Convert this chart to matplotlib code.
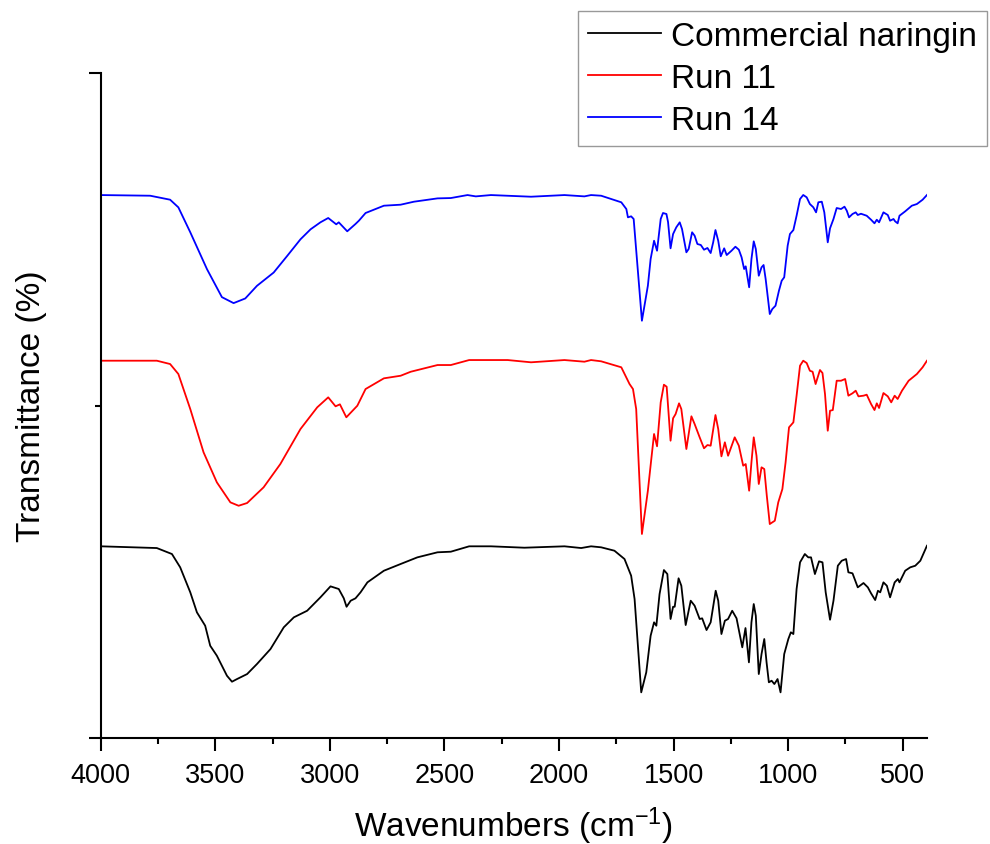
import numpy as np
import matplotlib.pyplot as plt
from matplotlib.ticker import MultipleLocator

plt.rcParams['font.family'] = ['Liberation Sans', 'DejaVu Sans']
plt.rcParams['mathtext.default'] = 'regular'

# FTIR spectra, stacked with an offset so the three traces don't overlap
# wavenumber (cm-1) and transmittance (%)

naringin_wn = [4000, 3755, 3689, 3653, 3609, 3580, 3544, 3522, 3493, 3449, 3427, 3405, 3361, 3318,
               3259, 3201, 3157, 3099, 3041, 2997, 2961, 2939, 2927, 2909, 2888, 2866, 2836, 2764,
               2691, 2618, 2530, 2472, 2392, 2297, 2151, 1976, 1903, 1860,
               1816, 1758, 1714, 1685, 1670, 1641, 1619, 1600, 1585, 1575, 1561, 1542, 1527, 1513,
               1502, 1495, 1478, 1466, 1447, 1425, 1408, 1386, 1375, 1356, 1338, 1316, 1305, 1291,
               1276, 1262, 1244, 1225, 1200, 1186, 1171, 1160, 1150, 1141, 1128, 1116, 1104, 1094,
               1084, 1072, 1060, 1046, 1033, 1017, 999, 988, 977, 963, 948, 927, 912, 900, 883,
               865, 850, 836, 817, 802, 783, 766, 747, 737, 719, 696, 671, 652, 638, 620, 608, 598,
               584, 569, 555, 535, 521, 514, 489, 467, 445, 423, 394]
naringin_t = [28.83, 28.57, 27.67, 25.67, 21.91, 18.9, 16.89, 13.88, 12.38, 9.37, 8.47, 8.87, 9.62, 11.13,
              13.38, 16.65, 18.15, 19.14, 21.16, 22.81, 22.41, 21.01, 19.74, 20.65, 21.01, 21.91, 23.41, 25.16,
              26.17, 27.17, 27.93, 28.02, 28.83, 28.83, 28.62, 28.83, 28.57, 28.83,
              28.68, 28.17, 26.92, 24.41, 20.9, 6.87, 9.88, 15.38, 17.4, 16.89, 21.65, 25.26, 24.66, 17.9,
              19.74, 19.74, 24.02, 22.9, 16.99, 20.65, 19.9, 17.9, 18.0, 16.24, 17.4, 22.15, 20.65, 15.64,
              17.64, 17.9, 19.14, 18.0, 13.64, 16.54, 11.38, 17.4, 20.15, 18.39, 9.62, 12.63, 14.89, 11.38,
              8.38, 8.62, 8.12, 8.87, 6.87, 12.63, 14.89, 15.9, 15.64, 22.41, 26.42, 27.67, 27.17, 27.17, 24.66,
              26.57, 26.42, 21.91, 17.79, 20.65, 25.91, 26.66, 26.92, 24.92, 24.77, 22.66, 23.31, 22.66, 21.76, 20.75, 22.15, 21.91,
              23.41, 22.9, 21.16, 23.41, 23.91, 23.41, 25.16, 25.67, 25.91, 26.66, 28.92]

run11_wn = [4000, 3755, 3697, 3661, 3609, 3551, 3493, 3434, 3398, 3361, 3289, 3216, 3128, 3055, 3007,
            2975, 2956, 2928, 2880, 2844, 2764, 2691, 2647, 2530, 2472, 2392, 2224, 2122, 1976, 1889, 1860,
            1816, 1728, 1692, 1677, 1663, 1638, 1612, 1597, 1585, 1572, 1556, 1542, 1530, 1513, 1502,
            1491, 1476, 1466, 1444, 1422, 1408, 1386, 1367, 1352, 1338, 1317, 1305, 1291, 1276, 1262,
            1233, 1215, 1196, 1185, 1170, 1160, 1150, 1138, 1128, 1116, 1104, 1093, 1080, 1058, 1043,
            1025, 1011, 996, 977, 963, 948, 934, 919, 905, 893, 880, 861, 850, 839, 827, 817, 805, 788,
            769, 751, 737, 719, 705, 693, 671, 657, 638, 623, 613, 603, 584, 565, 550, 535, 522, 503,
            474, 438, 413, 394]
run11_t = [56.74, 56.74, 56.24, 54.74, 49.47, 42.96, 38.45, 35.44, 34.93, 35.34, 37.7, 41.2, 46.47, 49.73, 51.23,
           49.88, 50.18, 48.23, 49.97, 52.48, 54.09, 54.48, 55.08, 56.09, 56.09, 56.84, 56.84, 56.5, 56.84, 56.59, 56.84,
           56.65, 55.75, 53.23, 52.48, 49.47, 30.68, 37.19, 41.96, 45.72, 43.87, 50.48, 53.13, 52.83, 44.71, 48.08,
           48.72, 50.33, 49.47, 43.46, 48.38, 47.22, 45.22, 43.57, 44.06, 43.96, 48.57, 46.47, 42.36, 44.47, 42.45,
           45.22, 43.96, 40.95, 41.2, 37.19, 41.46, 45.22, 42.45, 38.2, 40.71, 40.45, 36.44, 32.18, 32.68, 35.44,
           37.44, 41.46, 46.72, 47.47, 51.48, 55.99, 56.74, 56.39, 55.23, 55.08, 53.23, 55.34, 54.89, 51.73, 46.21, 49.22, 49.32, 53.73,
           53.73, 53.99, 51.48, 51.84, 52.23, 51.38, 51.48, 51.63, 50.23, 49.32, 50.33, 49.63, 51.88, 51.38, 50.48, 51.48, 50.98, 52.23,
           53.73, 54.74, 55.75, 56.74]

run14_wn = [4000, 3784, 3697, 3661, 3609, 3536, 3471, 3420, 3369, 3318, 3245, 3186, 3128, 3084, 3041,
            3007, 2972, 2961, 2924, 2888, 2873, 2844, 2764, 2691, 2633, 2530, 2472, 2399, 2363, 2297,
            2122, 1976, 1889, 1860,
            1816, 1728, 1706, 1699, 1685, 1674, 1638, 1612, 1600, 1585, 1572, 1556, 1546, 1531, 1524,
            1513, 1502, 1488, 1473, 1463, 1444, 1434, 1419, 1408, 1396, 1381, 1367, 1352, 1338, 1327,
            1317, 1305, 1294, 1279, 1268, 1247, 1230, 1215, 1203, 1192, 1185, 1170, 1160, 1150, 1141,
            1128, 1116, 1107, 1098, 1080, 1069, 1055, 1040, 1028, 1017, 1002, 992, 977, 963, 948, 934,
            919, 905, 890, 878, 868, 853, 842, 827, 817, 802, 788, 769, 754, 744, 734, 719, 705, 696,
            682, 657, 638, 623, 613, 603, 584, 565, 555, 540, 533, 522, 514, 489, 460, 438, 413, 394]
run14_t = [81.65, 81.55, 80.95, 79.8, 76.05, 70.5, 66.3, 65.4, 66.1, 68.0, 70.0, 72.5, 75.0, 76.5, 77.55,
           78.2, 77.25, 77.55, 76.2, 77.3, 77.8, 78.95, 80.05, 80.2, 80.65, 81.15, 81.2, 81.65, 81.45, 81.65,
           81.4, 81.65, 81.45, 81.65,
           81.55, 80.56, 79.55, 78.3, 78.45, 78.05, 62.75, 68.02, 72.03, 74.78, 73.28, 78.05, 78.95, 78.8, 77.6,
           73.64, 75.79, 76.8, 77.55, 76.54, 73.04, 73.54, 76.05, 75.54, 74.29, 74.14, 73.43, 73.69, 72.93, 74.54,
           76.39, 74.78, 72.44, 73.64, 72.63, 73.28, 73.88, 73.43, 72.29, 70.53, 70.93, 67.78, 72.03, 74.69, 73.54,
           69.52, 70.78, 71.13, 69.02, 63.76, 64.51, 65.01, 67.26, 68.77, 69.28, 74.03, 75.79, 76.39, 78.54, 81.05, 81.66,
           81.31, 80.3, 79.81, 79.05, 80.56, 80.65, 79.05, 74.54, 76.65, 78.05, 79.7, 79.55, 79.9, 79.3, 78.3, 78.8, 79.05, 78.65,
           78.84, 78.54, 77.94, 77.4, 77.94, 77.55, 79.05, 78.65, 77.79, 78.05, 77.7, 77.4, 78.54, 79.2, 80.05, 80.3, 80.95, 81.66]

series = [
    ('Commercial naringin', naringin_wn, naringin_t, 'black'),
    ('Run 11', run11_wn, run11_t, '#ff0000'),
    ('Run 14', run14_wn, run14_t, '#0000ff'),
]

fig = plt.figure(figsize=(9.9, 8.45), dpi=100)
ax = fig.add_axes([0.1017, 0.1254, 0.8344, 0.787])

for name, wn, t, c in series:
    ax.plot(np.array(wn), np.array(t), color=c, lw=1.3, label=name,
            solid_joinstyle='round')

ax.set_xlim(4000, 395)
ax.set_ylim(0, 100)

ax.xaxis.set_major_locator(MultipleLocator(500))
ax.xaxis.set_minor_locator(MultipleLocator(250))
ax.yaxis.set_major_locator(MultipleLocator(100))
ax.yaxis.set_minor_locator(MultipleLocator(50))
ax.set_yticklabels([])

for side in ['top', 'right']:
    ax.spines[side].set_visible(False)
for side in ['left', 'bottom']:
    ax.spines[side].set_linewidth(1.5)

ax.tick_params(which='major', direction='out', length=9, width=1.5, labelsize=19.5, pad=8)
ax.tick_params(which='minor', direction='out', length=4.5, width=1.5)

ax.set_xlabel('Wavenumbers (cm$^{-1}$)', fontsize=24, labelpad=12)
ax.set_ylabel('Transmittance (%)', fontsize=24, labelpad=22)

leg = fig.legend(loc='upper left', bbox_to_anchor=(578 / 990, 1 - 12 / 845),
                 bbox_transform=fig.transFigure, fontsize=24, frameon=True,
                 fancybox=False, borderaxespad=0, borderpad=0.3, labelspacing=0.33,
                 handlelength=2.2, handletextpad=0.3)
leg.get_frame().set_edgecolor('#808080')
leg.get_frame().set_linewidth(1.0)

fig.savefig('out.png', dpi=100)
